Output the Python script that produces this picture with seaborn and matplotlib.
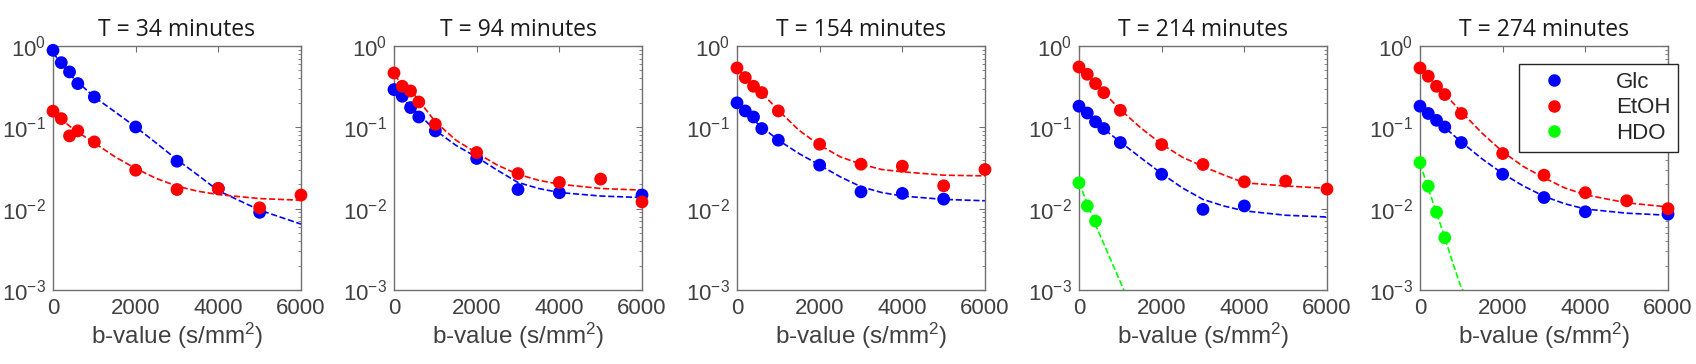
import seaborn as sns
import matplotlib.pyplot as plt
import pandas as pd
import numpy as np
from matplotlib.lines import Line2D

nan = np.nan

# b-values (s/mm^2) and acquisition times
b_values = [0, 200, 400, 600, 1000, 2000, 3000, 4000, 5000, 6000]
times = [34, 94, 154, 214, 274]

# measured points, one row per panel
glc_points = [
    [0.885, 0.624, 0.48, 0.345, 0.236, 0.101, 0.0383, 0.0177, 0.009, nan],
    [0.291, 0.241, 0.175, 0.134, 0.0904, 0.0414, 0.0172, 0.0157, nan, 0.0147],
    [0.2, 0.159, 0.134, 0.0966, 0.0695, 0.0343, 0.0161, 0.0154, 0.0131, nan],
    [0.182, 0.15, 0.117, 0.0966, 0.065, 0.0265, 0.0098, 0.0108, nan, nan],
    [0.182, 0.148, 0.122, 0.101, 0.065, 0.0265, 0.0137, 0.00916, nan, 0.00857],
]
etoh_points = [
    [0.158, 0.128, 0.0785, 0.0904, 0.0662, 0.0297, 0.0172, 0.0177, 0.01025, 0.0147],
    [0.466, 0.32, 0.28, 0.205, 0.109, 0.049, 0.027, 0.021, 0.0231, 0.0121],
    [0.537, 0.409, 0.32, 0.267, 0.159, 0.062, 0.0352, 0.0333, 0.0191, 0.0303],
    [0.552, 0.449, 0.345, 0.267, 0.162, 0.0614, 0.0349, 0.0214, 0.0218, 0.0174],
    [0.537, 0.425, 0.32, 0.253, 0.148, 0.0476, 0.0258, 0.0157, 0.0125, 0.01],
]
hdo_points = [
    [nan] * 10,
    [nan] * 10,
    [nan] * 10,
    [0.0208, 0.0108, 0.00703, nan, nan, nan, nan, nan, nan, nan],
    [0.0369, 0.0189, 0.00906, 0.00439, nan, nan, nan, nan, nan, nan],
]

# fitted curves
fit_b = [0, 500, 1000, 1500, 2000, 2500, 3000, 3500, 4000, 5000, 6000]
glc_fit = [
    [0.82, 0.40, 0.236, 0.155, 0.101, 0.064, 0.040, 0.026, 0.0166, 0.0096, 0.00646],
    [0.29, 0.162, 0.092, 0.06, 0.043, 0.0297, 0.021, 0.0177, 0.0158, 0.0143, 0.0137],
    [0.205, 0.111, 0.0695, 0.0476, 0.0343, 0.0246, 0.0186, 0.0158, 0.0143, 0.013, 0.0125],
    [0.18, 0.105, 0.066, 0.042, 0.027, 0.018, 0.013, 0.0108, 0.0094, 0.0083, 0.0079],
    [0.18, 0.11, 0.066, 0.041, 0.027, 0.019, 0.0142, 0.0115, 0.0099, 0.0088, 0.0083],
]
etoh_fit = [
    [0.154, 0.094, 0.0644, 0.0434, 0.0312, 0.0235, 0.0189, 0.0164, 0.0149, 0.0133, 0.0127],
    [0.436, 0.248, 0.117, 0.0694, 0.0485, 0.0343, 0.0265, 0.0223, 0.02, 0.0177, 0.0169],
    [0.527, 0.299, 0.162, 0.092, 0.0603, 0.0434, 0.0352, 0.0303, 0.0284, 0.0258, 0.0253],
    [0.54, 0.30, 0.165, 0.098, 0.062, 0.043, 0.033, 0.026, 0.0208, 0.019, 0.0178],
    [0.52, 0.29, 0.155, 0.085, 0.05, 0.033, 0.024, 0.018, 0.0148, 0.0118, 0.0105],
]
hdo_fit_b = [0, 200, 400, 600, 800, 1000, 1100]
hdo_fit = [
    None,
    None,
    None,
    [0.021, 0.0115, 0.0063, 0.0037, 0.00215, 0.00126, 0.00096],
    [0.036, 0.0178, 0.0089, 0.0044, 0.0021, 0.00106, 0.00088],
]

colors = {'Glc': '#0000ff', 'EtOH': '#ff0000', 'HDO': '#00ff00'}

sns.set_style('white')
plt.rcParams['font.family'] = ['Liberation Sans', 'DejaVu Sans']
plt.rcParams['mathtext.fontset'] = 'custom'
plt.rcParams['mathtext.rm'] = 'Liberation Sans'
plt.rcParams['mathtext.it'] = 'Liberation Sans:italic'

fig = plt.figure(figsize=(16.96, 3.64), dpi=100)
lefts = [53, 394, 737, 1079, 1420]
spine_c = '#707070'
text_c = '#404040'

for i, t in enumerate(times):
    ax = fig.add_axes([lefts[i] / 1696, 1 - 290 / 364, 248 / 1696, 244 / 364])
    series = [('Glc', glc_points[i], glc_fit[i], fit_b),
              ('EtOH', etoh_points[i], etoh_fit[i], fit_b),
              ('HDO', hdo_points[i], hdo_fit[i], hdo_fit_b)]
    # fits first, points on top
    for name, pts, fit, fb in series:
        if fit is None:
            continue
        fdf = pd.DataFrame({'b': fb, 'S': fit})
        sns.lineplot(data=fdf, x='b', y='S', ax=ax, color=colors[name],
                     linestyle='--', dashes=(5, 2.5), linewidth=1.2, zorder=2)
    for name, pts, fit, fb in series:
        pdf = pd.DataFrame({'b': b_values, 'S': pts}).dropna()
        if len(pdf) == 0:
            continue
        sns.scatterplot(data=pdf, x='b', y='S', ax=ax, color=colors[name],
                        s=85, edgecolor='none', zorder=3, clip_on=False)

    ax.set_yscale('log')
    ax.set_ylim(1e-3, 1)
    ax.set_xlim(0, 6000)
    ax.set_xticks([0, 2000, 4000, 6000])
    ax.set_yticks([1e-3, 1e-2, 1e-1, 1])
    ax.tick_params(axis='both', which='both', direction='in', colors=spine_c,
                   labelcolor=text_c, labelsize=16, right=True, top=True)
    ax.tick_params(axis='both', which='major', length=4)
    ax.tick_params(axis='y', which='minor', length=2)
    ax.tick_params(axis='y', which='major', pad=5)
    ax.tick_params(axis='x', which='major', pad=6)
    for sp in ax.spines.values():
        sp.set_color(spine_c)
        sp.set_linewidth(1.0)
    ax.set_title(f'T = {t} minutes', fontsize=16.5, family=['Open Sans', 'DejaVu Sans'],
                 color='#1a1a1a', pad=7)
    ax.set_xlabel('b-value (s/mm$^2$)', fontsize=17.5, color=text_c, labelpad=1)
    ax.set_ylabel('')

    if i == len(times) - 1:
        handles = [Line2D([], [], marker='o', linestyle='none', color=colors[n],
                          markersize=8) for n in ['Glc', 'EtOH', 'HDO']]
        leg = ax.legend(handles, ['Glc', 'EtOH', 'HDO'], loc='upper left',
                        bbox_to_anchor=(0.40, 0.926), fontsize=16, frameon=True,
                        fancybox=False, framealpha=1, edgecolor='#262626',
                        handletextpad=1.6, borderpad=0.35, labelspacing=0.2,
                        handlelength=2.4, borderaxespad=0)
        leg.get_frame().set_linewidth(1.0)

fig.savefig('out.png', dpi=100)
